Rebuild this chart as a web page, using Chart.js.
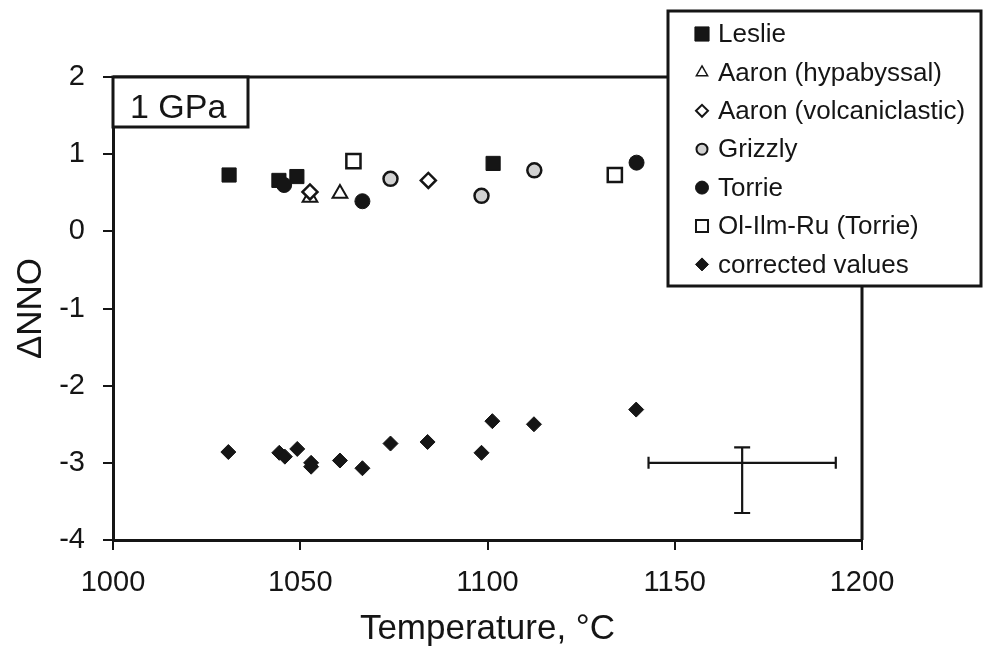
<!DOCTYPE html>
<html>
<head>
<meta charset="utf-8">
<script src="https://cdn.jsdelivr.net/npm/chart.js@4/dist/chart.umd.min.js"></script>
<style>
  html, body { margin: 0; padding: 0; background: #fff; }
  #wrap { width: 985px; height: 652px; }
</style>
</head>
<body>
<div id="wrap"><canvas id="c" width="985" height="652"></canvas></div>
<script>
// ---- data ----
const leslieT = [1031.0, 1044.3, 1049.1, 1101.5];
const leslieNNO = [0.73, 0.66, 0.71, 0.88];

const aaronHypT = [1052.6, 1060.6];
const aaronHypNNO = [0.44, 0.49];

const aaronVolcT = [1052.6, 1084.2];
const aaronVolcNNO = [0.51, 0.66];

const grizzlyT = [1074.1, 1098.4, 1112.5];
const grizzlyNNO = [0.68, 0.46, 0.79];

const torrieT = [1045.7, 1066.6, 1139.8];
const torrieNNO = [0.60, 0.39, 0.89];

const olIlmRuT = [1064.2, 1134.0];
const olIlmRuNNO = [0.91, 0.73];

const correctedT = [1030.8, 1044.4, 1045.9, 1049.2, 1052.9, 1052.9, 1060.6, 1066.6, 1074.1, 1084.0, 1098.4, 1101.3, 1112.4, 1139.7];
const correctedNNO = [-2.86, -2.87, -2.92, -2.82, -3.00, -3.05, -2.97, -3.07, -2.75, -2.73, -2.87, -2.46, -2.50, -2.31];

// representative error bar
const errT = [1168];
const errNNO = [-3.0];
const errTMinus = [25];
const errTPlus = [25];
const errNNOPlus = [0.2];
const errNNOMinus = [0.65];

const xTicks = [1000, 1050, 1100, 1150, 1200];
const yTicks = [-4, -3, -2, -1, 0, 1, 2];
const pressureLabel = '1 GPa';

const FONT = '"Liberation Sans", Arial, Helvetica, sans-serif';
const INK = '#151515';

function pts(xs, ys) { return xs.map((x, i) => ({ x: x, y: ys[i] })); }

const datasets = [
  { label: 'Leslie', data: pts(leslieT, leslieNNO), pointStyle: 'rect', pointRadius: 10,
    backgroundColor: INK, borderColor: INK, borderWidth: 1, order: 3,
    legendRadius: 10 },
  { label: 'Aaron (hypabyssal)', data: pts(aaronHypT, aaronHypNNO), pointStyle: 'triangle', pointRadius: 8.5,
    backgroundColor: '#fff', borderColor: INK, borderWidth: 2, order: 5,
    legendRadius: 6.5, legendBorder: 1.5 },
  { label: 'Aaron (volcaniclastic)', data: pts(aaronVolcT, aaronVolcNNO), pointStyle: 'rectRot', pointRadius: 7.5,
    backgroundColor: '#fff', borderColor: INK, borderWidth: 2.5, order: 2,
    legendRadius: 6, legendBorder: 2 },
  { label: 'Grizzly', data: pts(grizzlyT, grizzlyNNO), pointStyle: 'circle', pointRadius: 7,
    backgroundColor: '#d2d2d2', borderColor: INK, borderWidth: 2.5, order: 4,
    legendRadius: 5.5, legendBorder: 2 },
  { label: 'Torrie', data: pts(torrieT, torrieNNO), pointStyle: 'circle', pointRadius: 7.5,
    backgroundColor: INK, borderColor: INK, borderWidth: 1, order: 1,
    legendRadius: 6.5, legendBorder: 1 },
  { label: 'Ol-Ilm-Ru (Torrie)', data: pts(olIlmRuT, olIlmRuNNO), pointStyle: 'rect', pointRadius: 10,
    backgroundColor: '#fff', borderColor: INK, borderWidth: 2.5, order: 6,
    legendRadius: 8.5, legendBorder: 2 },
  { label: 'corrected values', data: pts(correctedT, correctedNNO), pointStyle: 'rectRot', pointRadius: 7.5,
    backgroundColor: INK, borderColor: INK, borderWidth: 1, order: 0,
    legendRadius: 6.5, legendBorder: 1 }
];
datasets.forEach(d => { d.pointHoverRadius = d.pointRadius; d.showLine = false; });

const decorPlugin = {
  id: 'decor',
  afterDraw(chart) {
    const ctx = chart.ctx;
    const a = chart.chartArea;
    const xs = chart.scales.x, ys = chart.scales.y;
    ctx.save();
    // frame: top and right sides of the plot box
    ctx.strokeStyle = INK;
    ctx.lineWidth = 3;
    ctx.beginPath();
    ctx.moveTo(a.left, a.top);
    ctx.lineTo(a.right, a.top);
    ctx.lineTo(a.right, a.bottom);
    ctx.stroke();

    // error bar
    ctx.lineWidth = 2.2;
    for (let i = 0; i < errT.length; i++) {
      const cx = xs.getPixelForValue(errT[i]);
      const cy = ys.getPixelForValue(errNNO[i]);
      const x0 = xs.getPixelForValue(errT[i] - errTMinus[i]);
      const x1 = xs.getPixelForValue(errT[i] + errTPlus[i]);
      const y0 = ys.getPixelForValue(errNNO[i] + errNNOPlus[i]);
      const y1 = ys.getPixelForValue(errNNO[i] - errNNOMinus[i]);
      ctx.beginPath();
      ctx.moveTo(x0, cy); ctx.lineTo(x1, cy);
      ctx.moveTo(x0, cy - 6); ctx.lineTo(x0, cy + 6);
      ctx.moveTo(x1, cy - 6); ctx.lineTo(x1, cy + 6);
      ctx.moveTo(cx, y0); ctx.lineTo(cx, y1);
      ctx.moveTo(cx - 8, y0); ctx.lineTo(cx + 8, y0);
      ctx.moveTo(cx - 8, y1); ctx.lineTo(cx + 8, y1);
      ctx.stroke();
    }

    // pressure label box
    ctx.lineWidth = 3;
    ctx.fillStyle = '#fff';
    ctx.fillRect(a.left, a.top, 135, 50);
    ctx.strokeRect(a.left, a.top, 135, 50);
    ctx.fillStyle = INK;
    ctx.font = '34px ' + FONT;
    ctx.textAlign = 'left';
    ctx.textBaseline = 'alphabetic';
    ctx.fillText(pressureLabel, a.left + 17, a.top + 41);

    // legend box
    const lx = 668, ly = 11, lw = 313, lh = 275;
    ctx.fillStyle = '#fff';
    ctx.fillRect(lx, ly, lw, lh);
    ctx.lineWidth = 3;
    ctx.strokeStyle = INK;
    ctx.strokeRect(lx, ly, lw, lh);
    ctx.font = '26px ' + FONT;
    ctx.textBaseline = 'middle';
    chart.data.datasets.forEach((d, i) => {
      const rowY = ly + 23 + i * 38.4;
      ctx.lineWidth = d.legendBorder || 1;
      ctx.fillStyle = d.backgroundColor;
      ctx.strokeStyle = d.borderColor;
      Chart.helpers.drawPoint(ctx, { pointStyle: d.pointStyle, radius: d.legendRadius, rotation: 0, borderWidth: d.legendBorder || 1 }, 702, rowY);
      ctx.fillStyle = INK;
      ctx.fillText(d.label, 718, rowY + 1);
    });
    ctx.restore();
  }
};

new Chart(document.getElementById('c'), {
  type: 'scatter',
  data: { datasets: datasets },
  options: {
    responsive: false,
    devicePixelRatio: 1,
    animation: false,
    layout: { padding: { top: 77, right: 123, left: 0, bottom: 0 } },
    plugins: { legend: { display: false }, tooltip: { enabled: false } },
    scales: {
      x: {
        type: 'linear', position: 'bottom', min: 1000, max: 1200,
        afterBuildTicks(scale) { scale.ticks = xTicks.map(v => ({ value: v })); },
        afterFit(scale) { scale.height = 112; },
        ticks: { color: INK, font: { family: FONT, size: 29 }, padding: 16, maxRotation: 0,
                 callback: v => String(v) },
        grid: { drawOnChartArea: false, drawTicks: true, tickLength: 10, color: INK, lineWidth: 2 },
        border: { display: true, color: INK, width: 3 },
        title: { display: true, text: 'Temperature, °C', color: INK, font: { family: FONT, size: 35 }, padding: { top: 0, bottom: 2 } }
      },
      y: {
        type: 'linear', position: 'left', min: -4, max: 2,
        afterBuildTicks(scale) { scale.ticks = yTicks.map(v => ({ value: v })); },
        afterFit(scale) { scale.width = 113; },
        ticks: { color: INK, font: { family: FONT, size: 29 }, padding: 18, callback: v => String(v) },
        grid: { drawOnChartArea: false, drawTicks: true, tickLength: 10, color: INK, lineWidth: 2 },
        border: { display: true, color: INK, width: 3 },
        title: { display: true, text: 'ΔNNO', color: INK, font: { family: FONT, size: 35 }, padding: { top: 10, bottom: 0 } }
      }
    }
  },
  plugins: [decorPlugin]
});
</script>
</body>
</html>
